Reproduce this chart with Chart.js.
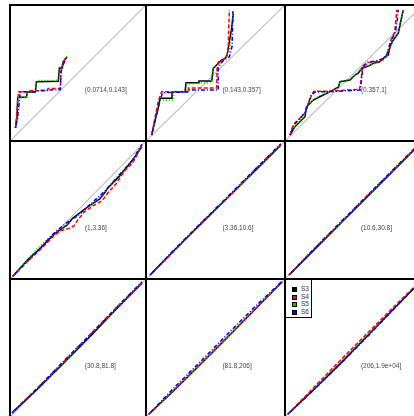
<!DOCTYPE html>
<html><head><meta charset="utf-8">
<script src="https://cdn.jsdelivr.net/npm/chart.js@4.4.1/dist/chart.umd.min.js"></script>
<style>
html,body{margin:0;padding:0;background:#fff;width:414px;height:416px;overflow:hidden;position:relative;font-family:"Liberation Sans",Arial,sans-serif;}
.panel{position:absolute;}
.panel canvas{display:block;}
#legend{position:absolute;left:285px;top:279px;width:27px;height:39px;border:1px solid #000;background:#fff;z-index:5;box-sizing:border-box;}
#legend .row{position:absolute;left:0;height:8px;line-height:8px;font-size:6.5px;color:#333;white-space:nowrap;}
#legend .sw{position:absolute;left:6px;top:2px;width:5px;height:5px;border:1px solid #000;box-sizing:border-box;}
#legend .tx{position:absolute;left:15px;top:0;}
</style></head><body>
<div id="legend"></div>
<script>
// ---- data (panel-normalised quantile coordinates, x and y in [0,1]) ----
const panelLabels = ["(0.0714,0.143]","(0.143,0.357]","(0.357,1]","(1,3.36]","(3.36,10.6]","(10.6,30.8]","(30.8,81.8]","(81.8,206]","(206,1.9e+04]"];
const seriesNames = ["S3","S4","S5","S6"];
const seriesColors = ["#000000","#FF0000","#00CD00","#0000FF"];

const P1_S3 = [[0.04,0.096],[0.051,0.17],[0.057,0.32],[0.121,0.324],[0.128,0.36],[0.187,0.36],[0.194,0.436],[0.355,0.44],[0.363,0.537],[0.385,0.537],[0.39,0.58],[0.42,0.62]];
const P1_S4 = [[0.04,0.096],[0.05,0.2],[0.062,0.36],[0.128,0.36],[0.13,0.37],[0.275,0.37],[0.28,0.386],[0.37,0.386],[0.377,0.537],[0.384,0.551],[0.392,0.574],[0.407,0.61]];
const P1_S5 = [[0.04,0.096],[0.06,0.17],[0.065,0.32],[0.12,0.32],[0.125,0.36],[0.19,0.36],[0.195,0.445],[0.33,0.445],[0.36,0.45],[0.365,0.54],[0.39,0.57],[0.42,0.625]];
const P1_S6 = [[0.04,0.096],[0.055,0.17],[0.07,0.3],[0.075,0.362],[0.18,0.362],[0.2,0.37],[0.28,0.375],[0.37,0.378],[0.375,0.5],[0.385,0.55],[0.4,0.58],[0.415,0.62]];

const P2_S3 = [[0.041,0.044],[0.065,0.154],[0.088,0.24],[0.101,0.314],[0.185,0.314],[0.187,0.363],[0.281,0.363],[0.288,0.429],[0.376,0.429],[0.381,0.441],[0.473,0.441],[0.478,0.485],[0.484,0.535],[0.52,0.571],[0.545,0.596],[0.568,0.608],[0.583,0.632],[0.592,0.682],[0.604,0.756],[0.616,0.829],[0.628,0.939]];
const P2_S4 = [[0.041,0.044],[0.07,0.2],[0.09,0.3],[0.113,0.363],[0.304,0.363],[0.306,0.39],[0.509,0.39],[0.511,0.527],[0.521,0.583],[0.568,0.601],[0.585,0.63],[0.592,0.7],[0.596,0.85],[0.6,0.963]];
const P2_S5 = [[0.041,0.044],[0.07,0.16],[0.1,0.3],[0.2,0.3],[0.2,0.36],[0.29,0.36],[0.29,0.42],[0.47,0.43],[0.48,0.53],[0.55,0.59],[0.6,0.66],[0.62,0.82],[0.625,0.93]];
const P2_S6 = [[0.041,0.044],[0.075,0.19],[0.1,0.3],[0.12,0.355],[0.3,0.36],[0.3,0.375],[0.52,0.375],[0.52,0.54],[0.55,0.585],[0.6,0.62],[0.62,0.7],[0.623,0.85],[0.625,0.955]];

const P3_S3 = [[0.036,0.044],[0.072,0.105],[0.145,0.179],[0.157,0.252],[0.205,0.301],[0.278,0.338],[0.326,0.363],[0.386,0.395],[0.399,0.436],[0.471,0.449],[0.507,0.485],[0.531,0.498],[0.556,0.535],[0.604,0.551],[0.64,0.571],[0.688,0.583],[0.725,0.62],[0.749,0.632],[0.761,0.693],[0.785,0.743],[0.821,0.792],[0.833,0.853],[0.857,0.963]];
const P3_S4 = [[0.036,0.044],[0.06,0.12],[0.1,0.16],[0.14,0.2],[0.16,0.26],[0.18,0.3],[0.195,0.345],[0.21,0.365],[0.3,0.366],[0.39,0.37],[0.45,0.375],[0.54,0.38],[0.55,0.44],[0.56,0.53],[0.58,0.56],[0.6,0.575],[0.66,0.585],[0.72,0.6],[0.74,0.63],[0.75,0.68],[0.77,0.75],[0.795,0.8],[0.805,0.9],[0.81,0.965]];
const P3_S5 = [[0.036,0.044],[0.07,0.11],[0.14,0.18],[0.16,0.26],[0.21,0.31],[0.26,0.34],[0.33,0.36],[0.385,0.4],[0.4,0.44],[0.47,0.45],[0.51,0.49],[0.55,0.53],[0.6,0.55],[0.69,0.585],[0.73,0.62],[0.75,0.66],[0.79,0.75],[0.82,0.8],[0.84,0.9],[0.86,0.96]];
const P3_S6 = [[0.036,0.044],[0.065,0.12],[0.11,0.165],[0.15,0.22],[0.17,0.28],[0.19,0.34],[0.22,0.36],[0.38,0.365],[0.45,0.37],[0.545,0.375],[0.555,0.45],[0.565,0.55],[0.6,0.58],[0.67,0.59],[0.73,0.615],[0.755,0.69],[0.78,0.76],[0.8,0.8],[0.815,0.9],[0.82,0.965]];

const P4_S3 = [[0.02,0.02],[0.13,0.14],[0.22,0.22],[0.32,0.32],[0.36,0.35],[0.42,0.39],[0.46,0.44],[0.54,0.5],[0.6,0.54],[0.66,0.58],[0.7,0.63],[0.72,0.66],[0.8,0.74],[0.9,0.86],[0.95,0.93],[0.97,0.96]];
const P4_S4 = [[0.02,0.02],[0.13,0.13],[0.22,0.21],[0.32,0.31],[0.37,0.35],[0.43,0.365],[0.47,0.385],[0.5,0.43],[0.55,0.49],[0.62,0.535],[0.68,0.57],[0.72,0.625],[0.78,0.69],[0.84,0.78],[0.9,0.84],[0.93,0.89],[0.97,0.975]];
const P4_S5 = [[0.02,0.02],[0.12,0.13],[0.2,0.22],[0.3,0.31],[0.35,0.35],[0.42,0.39],[0.47,0.44],[0.55,0.5],[0.65,0.58],[0.72,0.66],[0.8,0.75],[0.9,0.86],[0.95,0.94],[0.97,0.965]];
const P4_S6 = [[0.02,0.02],[0.13,0.13],[0.22,0.22],[0.32,0.33],[0.42,0.41],[0.5,0.46],[0.6,0.55],[0.7,0.64],[0.8,0.75],[0.9,0.86],[0.97,0.975]];

const P5_S3 = [[0.03,0.03],[0.2,0.205],[0.4,0.405],[0.6,0.602],[0.8,0.8],[0.97,0.97]];
const P5_S4 = [[0.03,0.03],[0.2,0.2],[0.4,0.41],[0.6,0.6],[0.8,0.81],[0.97,0.975]];
const P5_S5 = [[0.03,0.03],[0.2,0.2],[0.4,0.4],[0.6,0.6],[0.8,0.8],[0.97,0.97]];
const P5_S6 = [[0.03,0.03],[0.2,0.21],[0.4,0.41],[0.6,0.61],[0.8,0.81],[0.97,0.98]];

const P6_S3 = [[0.03,0.03],[0.2,0.2],[0.4,0.4],[0.6,0.6],[0.8,0.8],[0.98,0.98]];
const P6_S4 = [[0.03,0.03],[0.2,0.21],[0.4,0.405],[0.6,0.61],[0.8,0.805],[0.98,0.985]];
const P6_S5 = [[0.03,0.03],[0.2,0.2],[0.4,0.4],[0.6,0.6],[0.8,0.8],[0.98,0.98]];
const P6_S6 = [[0.03,0.03],[0.2,0.205],[0.4,0.41],[0.6,0.605],[0.8,0.81],[0.98,0.985]];

const P7_S3 = [[0.015,0.03],[0.2,0.2],[0.4,0.395],[0.6,0.595],[0.8,0.8],[0.97,0.97]];
const P7_S4 = [[0.015,0.03],[0.2,0.21],[0.4,0.405],[0.6,0.61],[0.8,0.81],[0.97,0.975]];
const P7_S5 = [[0.015,0.03],[0.2,0.2],[0.4,0.4],[0.6,0.6],[0.8,0.8],[0.97,0.97]];
const P7_S6 = [[0.015,0.03],[0.2,0.205],[0.4,0.41],[0.6,0.605],[0.8,0.81],[0.97,0.98]];

const P8_S3 = [[0.02,0.02],[0.2,0.19],[0.4,0.39],[0.6,0.59],[0.8,0.795],[0.98,0.98]];
const P8_S4 = [[0.02,0.02],[0.2,0.195],[0.4,0.392],[0.6,0.592],[0.8,0.797],[0.98,0.98]];
const P8_S5 = [[0.02,0.02],[0.2,0.195],[0.4,0.395],[0.6,0.595],[0.8,0.8],[0.98,0.98]];
const P8_S6 = [[0.02,0.02],[0.2,0.21],[0.4,0.41],[0.6,0.615],[0.8,0.815],[0.98,0.985]];

const P9_S3 = [[0.02,0.02],[0.2,0.19],[0.4,0.385],[0.6,0.59],[0.8,0.795],[0.98,0.98]];
const P9_S4 = [[0.02,0.02],[0.2,0.205],[0.4,0.41],[0.6,0.61],[0.8,0.81],[0.98,0.985]];
const P9_S5 = [[0.02,0.02],[0.2,0.19],[0.4,0.39],[0.6,0.59],[0.8,0.795],[0.98,0.98]];
const P9_S6 = [[0.02,0.02],[0.2,0.188],[0.4,0.385],[0.6,0.585],[0.8,0.795],[0.98,0.98]];

const panelSeries = [
  [P1_S3,P1_S4,P1_S5,P1_S6],[P2_S3,P2_S4,P2_S5,P2_S6],[P3_S3,P3_S4,P3_S5,P3_S6],
  [P4_S3,P4_S4,P4_S5,P4_S6],[P5_S3,P5_S4,P5_S5,P5_S6],[P6_S3,P6_S4,P6_S5,P6_S6],
  [P7_S3,P7_S4,P7_S5,P7_S6],[P8_S3,P8_S4,P8_S5,P8_S6],[P9_S3,P9_S4,P9_S5,P9_S6]
];

// ---- layout / style ----
const colEdges = [10,146,285,423];
const rowEdges = [5,141,279,417];
const PAD = 4;
const dashes = [[],[4,2],[1,2],[1,2,4,2]];
const labelPos = {x:0.55, y:0.37};

const boxPlugin = {
  id:'box',
  afterDatasetsDraw(chart){
    const a = chart.chartArea, ctx = chart.ctx;
    ctx.save();
    ctx.strokeStyle = '#000'; ctx.lineWidth = 2;
    ctx.strokeRect(a.left, a.top, a.right - a.left, a.bottom - a.top);
    ctx.restore();
  }
};
const labelPlugin = {
  id:'plabel',
  afterDatasetsDraw(chart, args, opts){
    const ctx = chart.ctx;
    const px = chart.scales.x.getPixelForValue(labelPos.x);
    const py = chart.scales.y.getPixelForValue(labelPos.y);
    ctx.save();
    ctx.font = '6.5px "Liberation Sans", Arial, sans-serif';
    ctx.fillStyle = '#444';
    ctx.textAlign = 'left'; ctx.textBaseline = 'middle';
    ctx.fillText(opts.text, px, py);
    ctx.restore();
  }
};

for (let r = 0; r < 3; r++) {
  for (let c = 0; c < 3; c++) {
    const i = r*3 + c;
    const div = document.createElement('div');
    div.className = 'panel';
    div.style.left = (colEdges[c]-PAD) + 'px';
    div.style.top = (rowEdges[r]-PAD) + 'px';
    div.style.width = (colEdges[c+1]-colEdges[c]+2*PAD) + 'px';
    div.style.height = (rowEdges[r+1]-rowEdges[r]+2*PAD) + 'px';
    const cv = document.createElement('canvas');
    div.appendChild(cv);
    document.body.appendChild(div);
    const datasets = [{
      label:'diag', data:[{x:0,y:0},{x:1,y:1}], showLine:true,
      borderColor:'#BEBEBE', borderWidth:1.2, pointRadius:0, order:10
    }];
    panelSeries[i].forEach((s, k) => {
      datasets.push({
        label: seriesNames[k],
        data: s.map(p => ({x:p[0], y:p[1]})),
        showLine:true, borderColor:seriesColors[k], borderWidth:1.5,
        borderDash:dashes[k], pointRadius:0, order:5-k
      });
    });
    new Chart(cv, {
      type:'scatter',
      data:{datasets},
      options:{
        responsive:true, maintainAspectRatio:false, animation:false,
        layout:{padding:PAD},
        scales:{
          x:{type:'linear', min:0, max:1, display:false},
          y:{type:'linear', min:0, max:1, display:false}
        },
        elements:{line:{tension:0}},
        plugins:{legend:{display:false}, tooltip:{enabled:false}, plabel:{text:panelLabels[i]}}
      },
      plugins:[boxPlugin, labelPlugin]
    });
  }
}

// legend
const lg = document.getElementById('legend');
seriesNames.forEach((n, k) => {
  const row = document.createElement('div');
  row.className = 'row';
  row.style.top = (5 + k*7.5) + 'px';
  const sw = document.createElement('span'); sw.className = 'sw'; sw.style.background = seriesColors[k];
  const tx = document.createElement('span'); tx.className = 'tx'; tx.textContent = n;
  row.appendChild(sw); row.appendChild(tx);
  lg.appendChild(row);
});
</script>
</body></html>
